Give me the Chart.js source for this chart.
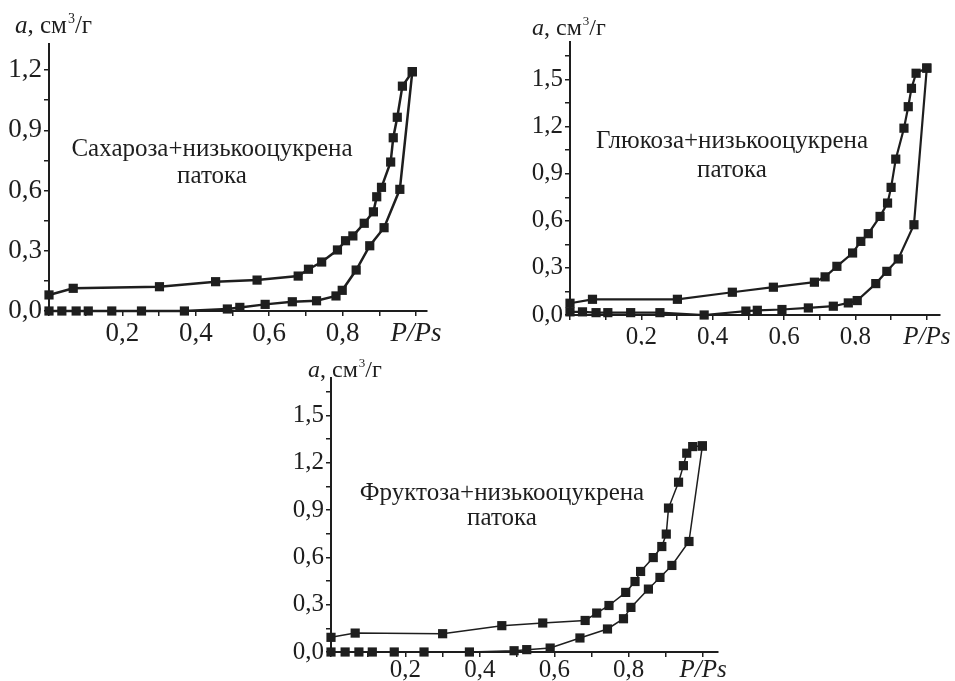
<!DOCTYPE html>
<html lang="uk">
<head>
<meta charset="utf-8">
<title>Ізотерми сорбції</title>
<script src="https://cdn.jsdelivr.net/npm/chart.js@4.4.1/dist/chart.umd.min.js"></script>
<style>
    html, body { margin: 0; padding: 0; background: #fff; }
    body { width: 955px; height: 681px; position: relative; overflow: hidden; }
    canvas { position: absolute; }
    #chartSucrose { left: 0; top: 0; }
    #chartGlucose { left: 480px; top: 0; }
    #chartFructose { left: 260px; top: 345px; }
</style>
</head>
<body>
<canvas id="chartSucrose" width="445" height="345"></canvas>
<canvas id="chartGlucose" width="475" height="345"></canvas>
<canvas id="chartFructose" width="470" height="336"></canvas>
<script>
// Сахароза + низькооцукрена патока
const sucroseAdsX = [0, 0.035, 0.074, 0.107, 0.171, 0.252, 0.369, 0.486, 0.52, 0.589, 0.663, 0.729, 0.782, 0.799, 0.837, 0.874, 0.913, 0.956, 0.99];
const sucroseAdsY = [0, 0, 0, 0, 0, 0, 0, 0.01, 0.018, 0.033, 0.046, 0.051, 0.075, 0.103, 0.204, 0.325, 0.415, 0.606, 1.192];
const sucroseDesX = [0, 0.066, 0.301, 0.454, 0.567, 0.679, 0.707, 0.743, 0.786, 0.808, 0.828, 0.859, 0.884, 0.893, 0.906, 0.931, 0.938, 0.949, 0.963, 0.99];
const sucroseDesY = [0.08, 0.113, 0.121, 0.146, 0.154, 0.174, 0.208, 0.244, 0.304, 0.35, 0.374, 0.437, 0.494, 0.569, 0.616, 0.742, 0.863, 0.965, 1.12, 1.192];

// Глюкоза + низькооцукрена патока
const glucoseAdsX = [0, 0.035, 0.073, 0.106, 0.17, 0.252, 0.376, 0.493, 0.525, 0.594, 0.668, 0.738, 0.78, 0.805, 0.857, 0.888, 0.92, 0.964, 1.0];
const glucoseAdsY = [0.02, 0.02, 0.015, 0.015, 0.015, 0.015, 0, 0.025, 0.03, 0.035, 0.045, 0.056, 0.077, 0.092, 0.2, 0.278, 0.357, 0.575, 1.573];
const glucoseDesX = [0, 0.063, 0.301, 0.455, 0.57, 0.685, 0.715, 0.748, 0.792, 0.815, 0.836, 0.869, 0.89, 0.9, 0.913, 0.936, 0.948, 0.957, 0.97, 1.0];
const glucoseDesY = [0.075, 0.1, 0.1, 0.145, 0.177, 0.209, 0.243, 0.31, 0.395, 0.469, 0.518, 0.628, 0.713, 0.813, 0.993, 1.19, 1.327, 1.444, 1.54, 1.573];

// Фруктоза + низькооцукрена патока
const fructoseAdsX = [0, 0.038, 0.075, 0.111, 0.17, 0.25, 0.372, 0.492, 0.526, 0.589, 0.669, 0.743, 0.786, 0.806, 0.853, 0.884, 0.916, 0.962, 0.998];
const fructoseAdsY = [0, 0, 0, 0, 0, 0, 0, 0.008, 0.015, 0.025, 0.089, 0.146, 0.211, 0.283, 0.399, 0.473, 0.549, 0.701, 1.307];
const fructoseDesX = [0, 0.065, 0.3, 0.459, 0.569, 0.683, 0.714, 0.747, 0.792, 0.817, 0.832, 0.866, 0.889, 0.901, 0.907, 0.934, 0.947, 0.956, 0.972, 0.998];
const fructoseDesY = [0.093, 0.12, 0.116, 0.167, 0.184, 0.2, 0.247, 0.295, 0.378, 0.447, 0.511, 0.599, 0.669, 0.748, 0.913, 1.077, 1.182, 1.261, 1.303, 1.307];

const yMajorStep = 0.3;
const xMajorStep = 0.2;
const xEndLabel = 'P/Ps';
const axisTitleParts = ['a', ', см', '3', '/г'];
const noteTail = 'патока';

const FONT = '"Liberation Serif", "Times New Roman", serif';
const INK = '#1e1e1e';

function fmt(v) {
    return v.toFixed(1).replace('.', ',');
}

function isMultiple(v, step) {
    const k = v / step;
    return Math.abs(k - Math.round(k)) < 1e-6;
}

function toPoints(xs, ys) {
    return xs.map((x, i) => ({ x: x, y: ys[i] }));
}

// подписи: название оси и надпись внутри графика
const captions = {
    id: 'captions',
    afterDraw(chart, args, opts) {
        const ctx = chart.ctx;
        ctx.save();
        ctx.fillStyle = INK;
        ctx.textBaseline = 'alphabetic';

        // a, см³/г
        let x = opts.titleX;
        const y = opts.titleY;
        const s = opts.titleSize;
        ctx.textAlign = 'left';
        ctx.font = `italic ${s}px ${FONT}`;
        ctx.fillText(axisTitleParts[0], x, y);
        x += ctx.measureText(axisTitleParts[0]).width;
        ctx.font = `${s}px ${FONT}`;
        ctx.fillText(axisTitleParts[1], x, y);
        x += ctx.measureText(axisTitleParts[1]).width + 1;
        ctx.font = `${Math.round(s * 0.55)}px ${FONT}`;
        ctx.fillText(axisTitleParts[2], x, y - s * 0.42);
        x += ctx.measureText(axisTitleParts[2]).width;
        ctx.font = `${s}px ${FONT}`;
        ctx.fillText(axisTitleParts[3], x, y);

        // надпись
        ctx.textAlign = 'center';
        ctx.font = `${opts.noteSize}px ${FONT}`;
        ctx.fillText(opts.note, opts.noteX, opts.noteY);
        ctx.fillText(noteTail, opts.noteX, opts.noteY + opts.noteGap);
        ctx.restore();
    }
};

function makeChart(id, cfg) {
    const ctx = document.getElementById(id).getContext('2d');
    const seriesStyle = {
        showLine: true,
        borderColor: INK,
        backgroundColor: INK,
        borderWidth: cfg.lineWidth,
        pointStyle: 'rect',
        pointRadius: cfg.markerRadius,
        pointHoverRadius: cfg.markerRadius,
        pointBorderWidth: 0,
        tension: 0,
        clip: false
    };
    return new Chart(ctx, {
        type: 'scatter',
        data: {
            datasets: [
                Object.assign({ label: 'адсорбція', data: toPoints(cfg.adsX, cfg.adsY) }, seriesStyle),
                Object.assign({ label: 'десорбція', data: toPoints(cfg.desX, cfg.desY) }, seriesStyle)
            ]
        },
        options: {
            responsive: false,
            animation: false,
            events: [],
            layout: { padding: { left: 0, top: cfg.padTop, right: cfg.padRight, bottom: 0 } },
            plugins: {
                legend: { display: false },
                tooltip: { enabled: false },
                captions: cfg.captions
            },
            scales: {
                x: {
                    type: 'linear',
                    min: 0,
                    max: cfg.xMax,
                    afterFit: s => { s.height = cfg.xAxisHeight; },
                    border: { display: true, color: INK, width: 2 },
                    grid: { drawOnChartArea: false, drawTicks: true, tickLength: 5, tickColor: INK, lineWidth: 1.5 },
                    ticks: {
                        stepSize: 0.1,
                        includeBounds: false,
                        autoSkip: false,
                        maxRotation: 0,
                        padding: cfg.xTickPad,
                        color: INK,
                        font: c => ({
                            family: FONT,
                            size: cfg.tickSize,
                            style: (c.tick && Math.abs(c.tick.value - 1) < 1e-6) ? 'italic' : 'normal'
                        }),
                        callback: v => {
                            if (Math.abs(v - 1) < 1e-6) return xEndLabel;
                            if (v > 0.05 && isMultiple(v, xMajorStep)) return fmt(v);
                            return '';
                        }
                    }
                },
                y: {
                    type: 'linear',
                    min: 0,
                    max: cfg.yMax,
                    afterFit: s => { s.width = cfg.yAxisWidth; },
                    border: { display: true, color: INK, width: 2 },
                    grid: { drawOnChartArea: false, drawTicks: true, tickLength: 5, tickColor: INK, lineWidth: 1.5 },
                    ticks: {
                        stepSize: 0.15,
                        includeBounds: false,
                        autoSkip: false,
                        padding: 2,
                        color: INK,
                        font: { family: FONT, size: cfg.tickSize },
                        callback: v => isMultiple(v, yMajorStep) ? fmt(v) : ''
                    }
                }
            }
        },
        plugins: [captions]
    });
}

document.addEventListener('DOMContentLoaded', () => {

    makeChart('chartSucrose', {
        adsX: sucroseAdsX, adsY: sucroseAdsY, desX: sucroseDesX, desY: sucroseDesY,
        xMax: 1.03, yMax: 1.33,
        yAxisWidth: 49, xAxisHeight: 34, padTop: 44, padRight: 18, xTickPad: 2,
        tickSize: 27, lineWidth: 2.5, markerRadius: 6.5,
        captions: {
            titleX: 15, titleY: 33, titleSize: 25,
            note: 'Сахароза+низькооцукрена', noteX: 212, noteY: 156, noteGap: 27, noteSize: 25
        }
    });

    makeChart('chartGlucose', {
        adsX: glucoseAdsX, adsY: glucoseAdsY, desX: glucoseDesX, desY: glucoseDesY,
        xMax: 1.037, yMax: 1.739,
        yAxisWidth: 90, xAxisHeight: 30, padTop: 42, padRight: 15, xTickPad: 2,
        tickSize: 25, lineWidth: 2.2, markerRadius: 6.5,
        captions: {
            titleX: 52, titleY: 35, titleSize: 24,
            note: 'Глюкоза+низькооцукрена', noteX: 252, noteY: 148, noteGap: 29, noteSize: 25
        }
    });

    makeChart('chartFructose', {
        adsX: fructoseAdsX, adsY: fructoseAdsY, desX: fructoseDesX, desY: fructoseDesY,
        xMax: 1.04, yMax: 1.738,
        yAxisWidth: 71, xAxisHeight: 29, padTop: 33, padRight: 12, xTickPad: -2,
        tickSize: 25, lineWidth: 1.5, markerRadius: 6.5,
        captions: {
            titleX: 48, titleY: 32, titleSize: 24,
            note: 'Фруктоза+низькооцукрена', noteX: 242, noteY: 155, noteGap: 25, noteSize: 25
        }
    });
});
</script>
</body>
</html>
